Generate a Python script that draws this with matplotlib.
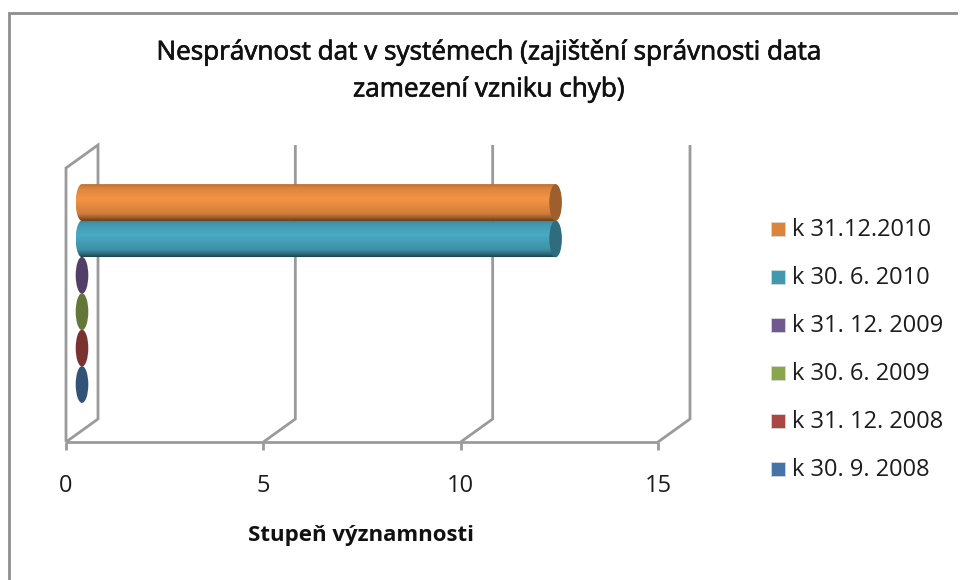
import matplotlib
matplotlib.use('Agg')
from matplotlib import pyplot as plt
from matplotlib.lines import Line2D
from matplotlib.patches import Ellipse, Rectangle, PathPatch
from matplotlib.path import Path
import matplotlib.patheffects as pe
import numpy as np

series = ['k 30. 9. 2008', 'k 31. 12. 2008', 'k 30. 6. 2009',
          'k 31. 12. 2009', 'k 30. 6. 2010', 'k 31.12.2010']
values = [0, 0, 0, 0, 12, 12]
colors = ['#4572a7', '#aa4643', '#89a54e', '#71588f', '#4198af', '#db843d']
ticks = [0, 5, 10, 15]

W, H = 960, 580
plt.rcParams['font.family'] = ['Open Sans', 'DejaVu Sans']
GREY = '#9a9a9a'
TEXT = '#1c1c1c'


def shade(hex_color, f):
    c = np.array(matplotlib.colors.to_rgb(hex_color))
    return tuple(np.clip(c * f, 0, 1))


fig = plt.figure(figsize=(W / 100, H / 100), dpi=100, facecolor='white')

# front plane of the 3d box, in pixels: x 66..658, y 442..168
L, R, B, T = 66, 658, 442, 168
ax = fig.add_axes([L / W, 1 - B / H, (R - L) / W, (B - T) / H])
ax.axis('off')

px_x = (R - L) / 15
px_y = B - T
depth = (32, 23)


def draw_line(xs, ys, lw=2):
    ax.add_line(Line2D(xs, ys, color=GREY, lw=lw, clip_on=False, zorder=1,
                       solid_capstyle='butt', solid_joinstyle='miter'))


# floor and walls
dx = depth[0] / px_x
dy = depth[1] / px_y
draw_line([0, 15], [0, 0])
draw_line([0, 0, dx, dx, 0], [0, 1, 1 + dy, dy, 0])
for t in ticks[1:]:
    draw_line([t, t, t + dx, t + dx], [0, 0, dy, 1 + dy])
for t in ticks:
    draw_line([t, t], [0, -8 / px_y])
    ax.text(t, -50 / px_y, str(t), ha='center', va='baseline', fontsize=17,
            color=TEXT)

# the bars stand half way into the box
bar_h = 36.8 / px_y
cap_w = 6.3 / px_x
off_x = 16 / px_x
off_y = 11.5 / px_y
y0 = 0.5 + off_y - 36.4 / px_y * 2.5
grad = np.linspace(0, 1, 64)
arc = np.linspace(np.pi / 2, 3 * np.pi / 2, 40)
for i, (val, col) in enumerate(zip(values, colors)):
    yc = y0 + i * 36.4 / px_y
    x0 = off_x
    x1 = val + off_x
    if val > 0:
        # cylinder body with vertical shading, left end rounded
        f = np.interp(grad, [0, 0.08, 0.2, 0.6, 0.9, 1], [0.45, 0.7, 0.95, 1.12, 1.0, 0.85])
        rgb = np.array([shade(col, v) for v in f])[:, None, :]
        outline = [(x1, yc - bar_h / 2), (x1, yc + bar_h / 2)]
        outline += [(x0 + cap_w * np.cos(a), yc + bar_h / 2 * np.sin(a)) for a in arc]
        outline.append(outline[0])
        im = ax.imshow(rgb, extent=[x0 - cap_w, x1, yc - bar_h / 2, yc + bar_h / 2],
                       origin='lower', aspect='auto', zorder=3 + i, interpolation='bilinear')
        im.set_clip_path(PathPatch(Path(outline), transform=ax.transData))
    ax.add_patch(Ellipse((x1, yc), cap_w * 2, bar_h, facecolor=shade(col, 0.72),
                         edgecolor='none', zorder=3 + i, clip_on=False))
ax.set_xlim(0, 15)
ax.set_ylim(0, 1)

heavy = [pe.withStroke(linewidth=0.5, foreground='#111111')]
fig.text(489 / W, 1 - 53 / H, 'Nesprávnost dat v systémech (zajištění správnosti data',
         ha='center', va='center', fontsize=18.8, color='#111111', path_effects=heavy)
fig.text(489 / W, 1 - 90 / H, 'zamezení vzniku chyb)', ha='center', va='center',
         fontsize=18.8, color='#111111', path_effects=heavy)
fig.text(361 / W, 1 - 536 / H, 'Stupeň významnosti', ha='center', va='center',
         fontsize=16, fontweight='bold', color='#111111')

# legend, newest on top
for i, (name, col) in enumerate(zip(series, colors)):
    y = 229 + (5 - i) * 48
    fig.add_artist(Rectangle((771 / W, 1 - (y + 7) / H), 14 / W, 14 / H, facecolor=col,
                             edgecolor='#d8d8d8', lw=0.6, transform=fig.transFigure))
    fig.text(792 / W, 1 - (y + 0.5) / H, name, ha='left', va='center', fontsize=17, color=TEXT)

# outer border, only left and top are visible
fig.add_artist(Line2D([8.5 / W, 8.5 / W, 956 / W], [0, 1 - 12.5 / H, 1 - 12.5 / H],
                      color='#8e8e8e', lw=2, transform=fig.transFigure,
                      solid_joinstyle='miter'))

fig.savefig('out.png', dpi=100)
